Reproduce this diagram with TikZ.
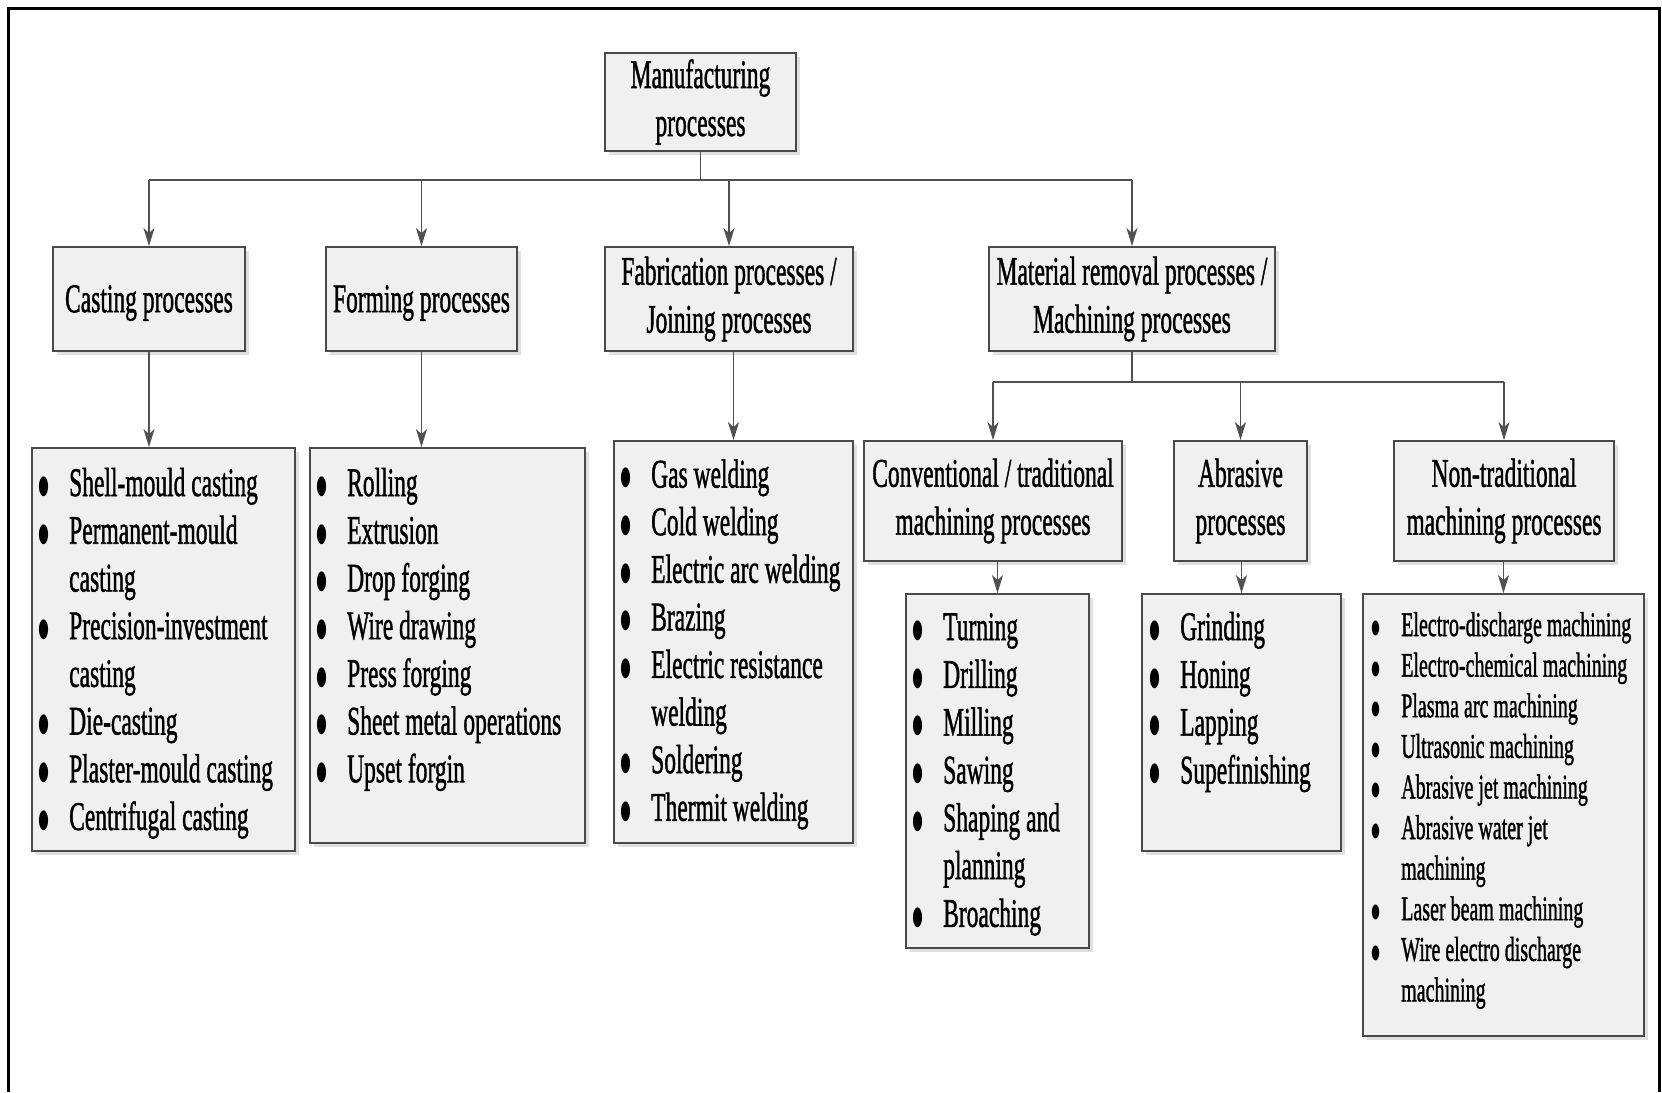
\documentclass[tikz,border=0pt]{standalone}
\usepackage{fontspec}
\setmainfont{Liberation Serif}[FakeBold=1.5]
\newfontfamily\symfont{DejaVu Sans}
\usetikzlibrary{arrows.meta,shadows}

\definecolor{boxfill}{HTML}{F0F0F0}
\definecolor{boxline}{HTML}{4A4A4A}
\definecolor{wire}{HTML}{505050}

% text sizes, with the matching bullet width / height / raise
\newcommand\bigtxt{\fontsize{23.5pt}{48pt}\selectfont
  \def\bw{10.5pt}\def\bh{16.6pt}\def\br{2.7pt}}
\newcommand\smalltxt{\fontsize{20pt}{41pt}\selectfont
  \def\bw{8.5pt}\def\bh{12.5pt}\def\br{2.5pt}}
% tall, narrow lettering
\newcommand\sq[1]{\scalebox{1}[1.724]{#1}}
% bullet hung to the left of an item
\newcommand\bl{\llap{\makebox[51pt][c]{\raisebox{\br}{\resizebox{\bw}{\bh}{\symfont ●}}}}}
% #1 name, #2 text x, #3 first baseline, #4 line step, #5 font, #6 items (mark/text)
\newcommand\putlist[6]{%
  \foreach \mk/\txt [count=\i] in {#6}{%
    \node[ltxt] (#1-\i) at (#2,{#3+(\i-1)*#4}) {#5\mk\sq{\txt}};}}

\tikzset{
  boxbase/.style={draw=boxline, line width=1.8pt, fill=boxfill, inner sep=0pt,
    drop shadow={shadow xshift=4pt, shadow yshift=-4pt, fill=black, opacity=0.12}},
  hdr/.style={boxbase, font=\bigtxt, align=center,
    execute at begin node={\rule{0pt}{35pt}}},
  lbox/.style={boxbase},
  ltxt/.style={anchor=base west, inner sep=0pt},
  conn/.style={draw=wire, line width=1.6pt},
  arr/.style={conn, -{Stealth[length=18pt,width=11pt,inset=5pt]}},
}

\begin{document}
\begin{tikzpicture}[x=1pt,y=-1pt]
\fill[white] (0,0) rectangle (1662,1092);
\useasboundingbox (0,0) rectangle (1662,1092);

% outer frame
\draw[line width=3pt, black] (8,1092) -- (8,8) -- (1659,8) -- (1659,1092);

% top of the tree
\node[hdr, minimum width=191pt, minimum height=98pt] (mp) at (700.5,102) {\sq{Manufacturing}\\\sq{processes}};

% first level
\node[hdr, minimum width=192pt, minimum height=104pt] (cast) at (149,299) {\sq{Casting processes}};
\node[hdr, minimum width=191pt, minimum height=104pt] (form) at (421.5,299) {\sq{Forming processes}};
\node[hdr, minimum width=248pt, minimum height=104pt] (fab) at (729,299) {\sq{Fabrication processes /}\\\sq{Joining processes}};
\node[hdr, minimum width=286pt, minimum height=104pt] (mat) at (1132,299) {\sq{Material removal processes /}\\\sq{Machining processes}};

% machining branches
\node[hdr, minimum width=258pt, minimum height=120pt] (conv) at (993,501) {\sq{Conventional / traditional}\\\sq{machining processes}};
\node[hdr, minimum width=133pt, minimum height=120pt] (abr) at (1240.5,501) {\sq{Abrasive}\\\sq{processes}};
\node[hdr, minimum width=220pt, minimum height=120pt] (ntr) at (1504,501) {\sq{Non-traditional}\\\sq{machining processes}};

% list boxes
\node[lbox, minimum width=263pt, minimum height=403pt] (castl) at (163.5,649.5) {};
\node[lbox, minimum width=275pt, minimum height=395pt] (forml) at (447.5,645.5) {};
\node[lbox, minimum width=239pt, minimum height=402pt] (fabl) at (733.5,642) {};
\node[lbox, minimum width=183pt, minimum height=354pt] (convl) at (997.5,771) {};
\node[lbox, minimum width=199pt, minimum height=257pt] (abrl) at (1241.5,722.5) {};
\node[lbox, minimum width=281pt, minimum height=442pt] (ntrl) at (1503.5,815) {};

% list contents
\putlist{ci}{69}{496}{47.7}{\bigtxt}{\bl/Shell-mould casting,\bl/Permanent-mould,\relax/casting,
  \bl/Precision-investment,\relax/casting,\bl/Die-casting,\bl/Plaster-mould casting,\bl/Centrifugal casting}
\putlist{fi}{347}{496}{47.7}{\bigtxt}{\bl/Rolling,\bl/Extrusion,\bl/Drop forging,\bl/Wire drawing,
  \bl/Press forging,\bl/Sheet metal operations,\bl/Upset forgin}
\putlist{ji}{651}{487.5}{47.6}{\bigtxt}{\bl/Gas welding,\bl/Cold welding,\bl/Electric arc welding,\bl/Brazing,
  \bl/Electric resistance,\relax/welding,\bl/Soldering,\bl/Thermit welding}
\putlist{ti}{943}{640}{47.8}{\bigtxt}{\bl/Turning,\bl/Drilling,\bl/Milling,\bl/Sawing,\bl/Shaping and,
  \relax/planning,\bl/Broaching}
\putlist{ai}{1180}{640}{47.8}{\bigtxt}{\bl/Grinding,\bl/Honing,\bl/Lapping,\bl/Supefinishing}
\putlist{ni}{1401}{636}{40.6}{\smalltxt}{\bl/Electro-discharge machining,\bl/Electro-chemical machining,
  \bl/Plasma arc machining,\bl/Ultrasonic machining,\bl/Abrasive jet machining,\bl/Abrasive water jet,
  \relax/machining,\bl/Laser beam machining,\bl/Wire electro discharge,\relax/machining}

% main bus
\coordinate (b0) at (700.5,180);
\draw[conn] (mp.south) -- (b0);
\draw[conn] (b0 -| cast.north) -- (b0 -| mat.north);
\foreach \n in {cast,form,fab,mat}
  \draw[arr] (b0 -| \n.north) -- (\n.north);

% machining bus
\coordinate (b1) at (1132,382);
\draw[conn] (mat.south) -- (b1);
\draw[conn] (b1 -| conv.north) -- (b1 -| ntr.north);
\foreach \n in {conv,abr,ntr}
  \draw[arr] (b1 -| \n.north) -- (\n.north);

% boxes to their lists
\draw[arr] (cast.south) -- (cast.south |- castl.north);
\draw[arr] (form.south) -- (form.south |- forml.north);
\draw[arr] (fab.south -| fabl.north) -- (fabl.north);
\draw[arr] (conv.south -| convl.north) -- (convl.north);
\draw[arr] (abr.south -| abrl.north) -- (abrl.north);
\draw[arr] (ntr.south -| ntrl.north) -- (ntrl.north);
\end{tikzpicture}
\end{document}
